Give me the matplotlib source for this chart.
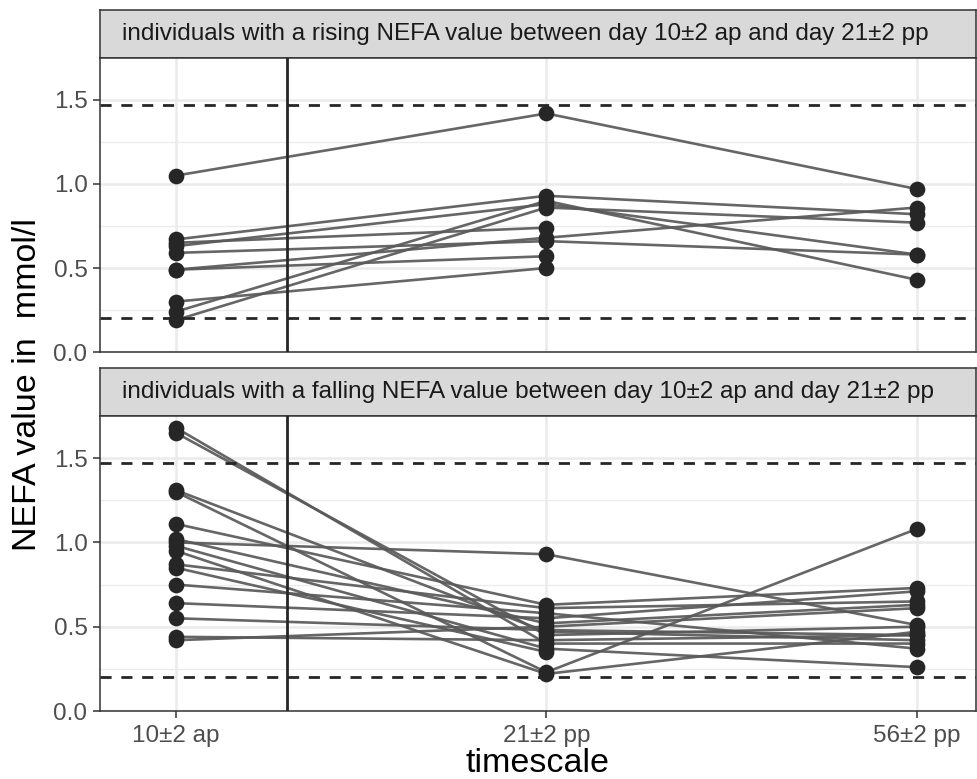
import numpy as np
import matplotlib.pyplot as plt

plt.rcParams['font.family'] = ['Liberation Sans', 'DejaVu Sans']

# time points on the x axis
timepoints = ["10±2 ap", "21±2 pp", "56±2 pp"]

# individuals with a rising NEFA value (one entry per animal)
rising_ap = [1.05, 0.67, 0.65, 0.63, 0.59, 0.49, 0.49, 0.30, 0.24, 0.19]
rising_21pp = [1.42, 0.93, 0.74, 0.88, 0.66, 0.68, 0.57, 0.50, 0.90, 0.86]
rising_56pp = [0.97, 0.82, np.nan, 0.58, 0.58, 0.86, np.nan, np.nan, 0.43, 0.77]

# individuals with a falling NEFA value
falling_ap = [1.68, 1.65, 1.31, 1.30, 1.11, 1.02, 1.00, 0.98,
              0.95, 0.87, 0.85, 0.75, 0.64, 0.55, 0.44, 0.42]
falling_21pp = [0.40, 0.45, 0.47, 0.23, 0.63, 0.52, 0.93, 0.37,
                0.22, 0.61, 0.35, 0.58, 0.55, 0.48, 0.42, 0.50]
falling_56pp = [0.40, 0.50, 0.42, 1.08, 0.73, 0.63, 0.51, 0.26,
                0.47, 0.65, np.nan, 0.37, 0.71, 0.45, 0.45, 0.61]

panel_titles = [
    "individuals with a rising NEFA value between day 10±2 ap and day 21±2 pp",
    "individuals with a falling NEFA value between day 10±2 ap and day 21±2 pp",
]

# reference range and cut-off line
upper_ref = 1.47
lower_ref = 0.2
cutoff_x = 0.3

W, H = 977, 779
fig = plt.figure(figsize=(W / 100, H / 100), dpi=100)

def fbox(x0, y0, x1, y1):
    # pixel box (top-left origin) -> figure fraction
    return [x0 / W, 1 - y1 / H, (x1 - x0) / W, (y1 - y0) / H]

panels = [
    (rising_ap, rising_21pp, rising_56pp, 10, 58, 352),
    (falling_ap, falling_21pp, falling_56pp, 368, 416, 711),
]

x = np.arange(len(timepoints))
axes = []
for i, (ap, pp21, pp56, s_top, p_top, p_bot) in enumerate(panels):
    # strip
    sax = fig.add_axes(fbox(100, s_top, 976, p_top))
    sax.set_facecolor("#D9D9D9")
    sax.set_xticks([])
    sax.set_yticks([])
    for sp in sax.spines.values():
        sp.set_color("#333333")
        sp.set_linewidth(1.1)
    sax.text(22 / 876, 0.5, panel_titles[i], transform=sax.transAxes,
             ha="left", va="center", fontsize=17.5, color="#1A1A1A")

    ax = fig.add_axes(fbox(100, p_top, 976, p_bot))
    axes.append(ax)
    vals = np.column_stack([ap, pp21, pp56])
    for row in vals:
        ax.plot(x, row, color="#595959", lw=1.9, alpha=0.92, zorder=3,
                solid_capstyle="butt")
    for row in vals:
        ax.plot(x, row, ls="none", marker="o", ms=10.3, color="#262626",
                zorder=4)

    for yref in (upper_ref, lower_ref):
        ax.axhline(yref, color="#262626", lw=2.0, ls=(0, (4, 3.5)), zorder=5)
    ax.axvline(cutoff_x, color="#262626", lw=2.0, zorder=5)

    ax.set_xlim(-0.205, 2.16)
    ax.set_ylim(0, 1.75)
    ax.set_yticks([0, 0.5, 1.0, 1.5])
    ax.set_yticklabels(["0.0", "0.5", "1.0", "1.5"])
    ax.set_yticks([0.25, 0.75, 1.25], minor=True)
    ax.set_xticks(x)
    ax.grid(which="major", color="#EBEBEB", lw=1.8, zorder=0)
    ax.grid(which="minor", axis="y", color="#EBEBEB", lw=0.9, zorder=0)
    ax.set_axisbelow(True)
    for sp in ax.spines.values():
        sp.set_color("#333333")
        sp.set_linewidth(1.1)
    ax.tick_params(which="major", length=5, width=1.1, color="#333333",
                   labelsize=17.5, labelcolor="#4D4D4D")
    ax.tick_params(axis="y", pad=4)
    ax.tick_params(axis="x", pad=5)
    ax.tick_params(which="minor", length=0)
    if i == 0:
        ax.tick_params(axis="x", which="both", length=0, labelbottom=False)
    else:
        ax.set_xticklabels(timepoints)

axes[1].set_xlabel("timescale", fontsize=24.5, color="#000000", labelpad=1)
fig.text(28 / W, 1 - 385 / H, "NEFA value in  mmol/l", rotation=90,
         ha="center", va="center", fontsize=24.5, color="#000000")

fig.savefig("out.png", dpi=100)
